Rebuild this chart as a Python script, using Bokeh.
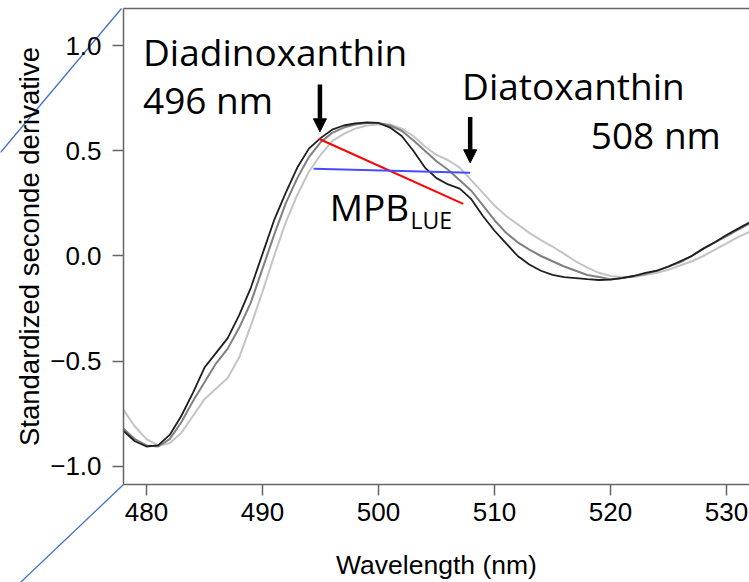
from bokeh.plotting import figure
from bokeh.models import Range1d, Label, Arrow, NormalHead, CustomJSTickFormatter, FixedTicker, LinearAxis
from bokeh.embed import file_html
from bokeh.resources import INLINE

# ---- data ----
wavelength = list(range(478, 533))
dark = [-0.83, -0.88, -0.905, -0.90, -0.85, -0.76, -0.65, -0.53, -0.46, -0.39,
        -0.28, -0.15, 0.01, 0.17, 0.30, 0.42, 0.51, 0.56, 0.60, 0.62,
        0.63, 0.635, 0.632, 0.61, 0.57, 0.50, 0.42, 0.37, 0.34, 0.32,
        0.27, 0.19, 0.12, 0.06, 0.00, -0.04, -0.07, -0.09, -0.10, -0.105,
        -0.11, -0.114, -0.112, -0.105, -0.095, -0.08, -0.07, -0.05, -0.025, 0.00,
        0.035, 0.065, 0.10, 0.13, 0.16]
medium = [-0.82, -0.87, -0.90, -0.905, -0.87, -0.79, -0.69, -0.60, -0.51, -0.44,
          -0.34, -0.22, -0.06, 0.10, 0.25, 0.37, 0.47, 0.54, 0.585, 0.61,
          0.625, 0.632, 0.632, 0.62, 0.595, 0.55, 0.50, 0.45, 0.41, 0.36,
          0.31, 0.24, 0.17, 0.11, 0.065, 0.03, 0.00, -0.025, -0.05, -0.07,
          -0.09, -0.10, -0.11, -0.105, -0.095, -0.085, -0.07, -0.05, -0.03, 0.00,
          0.035, 0.065, 0.095, 0.125, 0.155]
light = [-0.73, -0.81, -0.87, -0.90, -0.89, -0.84, -0.76, -0.68, -0.63, -0.58,
         -0.48, -0.33, -0.17, 0.00, 0.16, 0.29, 0.40, 0.48, 0.545, 0.58,
         0.605, 0.62, 0.625, 0.625, 0.605, 0.57, 0.52, 0.48, 0.455, 0.42,
         0.36, 0.30, 0.24, 0.19, 0.15, 0.11, 0.075, 0.045, 0.01, -0.025,
         -0.055, -0.08, -0.095, -0.10, -0.10, -0.09, -0.08, -0.065, -0.045, -0.025,
         0.00, 0.03, 0.06, 0.09, 0.115]

x_ticks = [480, 490, 500, 510, 520, 530]
y_ticks = [-1.0, -0.5, 0.0, 0.5, 1.0]

# annotation anchors (nm, value)
ddx_arrow = (494.95, 0.815, 0.59)    # x, y_start, y_end
dtx_arrow = (507.9, 0.66, 0.443)
red_seg = (494.85, 0.557, 507.3, 0.248)
blue_seg = (494.4, 0.414, 507.9, 0.395)

# plotting box (the framed region) and whole-canvas ranges
BOX_X = (478.02, 531.98)
BOX_Y = (-1.0855, 1.1758)
CANVAS_X = (467.414, 531.98)
CANVAS_Y = (-1.5511, 1.2138)

p = figure(width=749, height=582, output_backend="svg", toolbar_location=None,
           x_range=Range1d(*CANVAS_X), y_range=Range1d(*CANVAS_Y),
           min_border=0, min_border_left=0, min_border_right=0,
           min_border_top=0, min_border_bottom=0, x_axis_location=None, y_axis_location=None)
p.outline_line_color = None
p.xgrid.visible = False
p.ygrid.visible = False
p.background_fill_color = "white"
p.border_fill_color = "white"

xax = LinearAxis(fixed_location=BOX_Y[0], bounds=BOX_X)
yax = LinearAxis(fixed_location=BOX_X[0], bounds=BOX_Y)
p.add_layout(xax, "below")
p.add_layout(yax, "left")

AX = "#666666"
TICK_FONT = "Liberation Sans"
for ax in (xax, yax):
    ax.axis_line_color = AX
    ax.axis_line_width = 1.5
    ax.major_tick_line_color = AX
    ax.major_tick_line_width = 1.5
    ax.major_tick_out = 11
    ax.major_tick_in = 0
    ax.minor_tick_line_color = None
    ax.major_label_text_font = TICK_FONT
    ax.major_label_text_font_size = "26px"
    ax.major_label_text_color = "black"
    ax.axis_label_text_font = TICK_FONT
    ax.axis_label_text_font_style = "normal"
    ax.axis_label_text_color = "black"

xax.ticker = FixedTicker(ticks=x_ticks)
yax.ticker = FixedTicker(ticks=y_ticks)
yax.formatter = CustomJSTickFormatter(
    code="return (tick < 0 ? '\u2212' : '') + Math.abs(tick).toFixed(1);")
xax.axis_label = "Wavelength (nm)"
yax.axis_label = "Standardized seconde derivative"
xax.axis_label_text_font_size = "26.5px"
yax.axis_label_text_font_size = "27.5px"
xax.major_label_standoff = 8
xax.axis_label_standoff = 25
yax.major_label_standoff = 11
yax.axis_label_standoff = 2

# top border of the plotting box
p.segment(x0=[BOX_X[0]], y0=[BOX_Y[1]], x1=[BOX_X[1] + 1], y1=[BOX_Y[1]],
          line_color=AX, line_width=1.5)

# decorative slide lines outside the box
p.segment(x0=[467.414, 478.02], y0=[0.4917, -1.0855], x1=[477.845, 467.414], y1=[1.1758, -1.641],
          line_color="#4472c4", line_width=1.3)

# spectra
p.line(wavelength, light, line_color="#c4c4c4", line_width=2)
p.line(wavelength, medium, line_color="#808080", line_width=2)
p.line(wavelength, dark, line_color="#1e1e1e", line_width=1.8)

# MPB lines
p.segment(x0=[red_seg[0]], y0=[red_seg[1]], x1=[red_seg[2]], y1=[red_seg[3]],
          line_color="#ff0000", line_width=2)
p.segment(x0=[blue_seg[0]], y0=[blue_seg[1]], x1=[blue_seg[2]], y1=[blue_seg[3]],
          line_color="#4a4aff", line_width=2)

# arrows
for (ax_, y0, y1) in (ddx_arrow, dtx_arrow):
    p.add_layout(Arrow(end=NormalHead(size=13, fill_color="black", line_color="black"),
                       x_start=ax_, y_start=y0, x_end=ax_, y_end=y1,
                       line_color="black", line_width=4.5))

# texts
TF = "Open Sans"
def lab(x, y, t, size="37px"):
    p.add_layout(Label(x=x, y=y, text=t, text_font=TF, text_font_size=size,
                       text_color="black", text_baseline="alphabetic", text_align="left"))

lab(479.70, 0.972, "Diadinoxanthin")
lab(479.70, 0.743, "496 nm")
lab(507.2, 0.810, "Diatoxanthin")
lab(518.3, 0.575, "508 nm")
lab(495.8, 0.237, "MPB")
lab(502.75, 0.171, "LUE", size="23px")

open("out.html", "w").write(file_html(p, INLINE))
